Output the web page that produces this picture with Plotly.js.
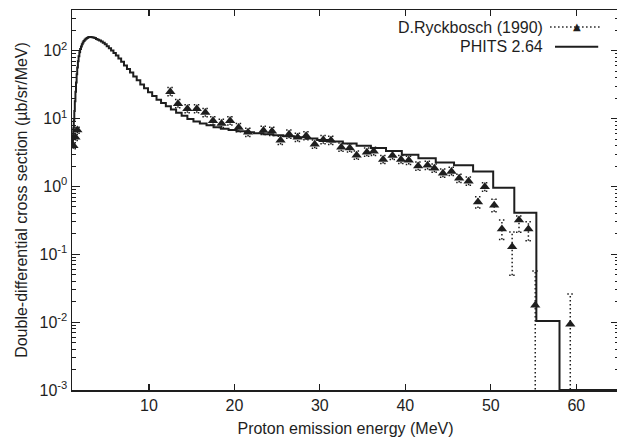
<!DOCTYPE html>
<html><head><meta charset="utf-8">
<script src="https://cdn.plot.ly/plotly-3.0.1.min.js"></script>
<style>html,body{margin:0;padding:0;overflow:hidden;background:#fff}#chart{width:620px;height:440px}</style>
</head><body><div id="chart"></div>
<script>
// PHITS 2.64 histogram: left bin edges (MeV), last right edge, and bin values
const phitsEdges = [1.0,1.05,1.10,1.15,1.21,1.27,1.33,1.40,1.47,1.54,1.61,1.69,1.77,1.86,1.95,2.05,2.15,2.25,2.35,2.47,2.59,2.72,2.85,2.99,3.14,3.29,3.45,3.62,3.80,3.99,4.18,4.39,4.60,4.83,5.06,5.31,5.57,5.85,6.13,6.43,6.75,7.08,7.43,7.79,8.17,8.57,8.99,9.43,9.89,10.38,10.89,11.42,11.98,12.57,13.18,13.83,14.50,15.21,15.96,16.74,17.56,18.42,19.32,20.27,21.26,22.30,23.39,24.54,25.74,27.00,28.32,29.71,31.17,32.69,34.30,35.97,37.74,39.59,41.53,43.56,45.70,47.93,50.28,52.75,55.33,58.04];
const phitsLastEdge = 65;
const phitsValues = [3.8,4.6,5.6,7.2,9.5,13,18,25,34,45,57,70,83,95,106,116,125,133,140,146,151,155,158,160,160,159,157,154,150,146,142,137,132,125,117,109,101,93,85,77,69,61,54,48,42,37,32,28,24.5,21.5,19,17,15.2,13.6,12.2,11,9.9,9.1,8.5,8.0,7.5,7.1,6.8,6.5,6.3,6.1,5.9,5.7,5.5,5.3,5.1,4.85,4.6,4.3,4.0,3.7,3.35,2.95,2.6,2.25,2.05,1.66,0.96,0.41,0.0104,0.001];

// D.Ryckbosch (1990) experimental data
const expEnergy = [1.17,1.4,1.62,12.5,13.4,14.5,15.6,16.6,17.5,18.5,19.5,20.5,21.6,23.4,24.4,25.4,26.4,27.4,28.4,29.4,30.4,31.3,32.5,33.5,34.3,35.5,36.3,37.4,38.5,39.5,40.4,41.5,42.6,43.4,44.4,45.4,46.3,47.4,48.5,49.3,50.4,51.3,52.5,53.3,54.4,55.2,59.3];
const expValue = [4.0,5.3,6.8,25,16.6,14,14,12.3,9.3,8.5,9.3,7.4,6.3,6.7,6.5,4.8,5.9,5.3,5.6,4.2,4.9,4.8,3.8,3.7,2.9,3.2,3.3,2.5,2.87,2.5,2.43,2.0,2.05,1.86,1.57,1.67,1.32,1.2,0.59,0.99,0.53,0.237,0.129,0.32,0.237,0.0177,0.0093];
// relative error (fraction of value), upper and lower
const expErrUp = [0.1,0.1,0.1,0.15,0.15,0.15,0.15,0.15,0.15,0.15,0.15,0.15,0.15,0.15,0.15,0.15,0.15,0.15,0.15,0.15,0.15,0.15,0.15,0.15,0.15,0.15,0.15,0.15,0.15,0.15,0.15,0.15,0.15,0.15,0.15,0.15,0.15,0.15,0.2,0.15,0.22,0.35,0.65,0.15,0.27,2.2,1.8];
const expErrDown = [0.1,0.1,0.1,0.13,0.13,0.13,0.13,0.13,0.13,0.13,0.13,0.13,0.13,0.13,0.13,0.13,0.13,0.13,0.13,0.13,0.13,0.13,0.13,0.13,0.13,0.13,0.13,0.13,0.13,0.13,0.13,0.13,0.13,0.13,0.13,0.13,0.13,0.13,0.18,0.14,0.2,0.3,0.62,0.34,0.33,1.0,1.0];

const xTickVals = [10,20,30,40,50,60];
const yTickVals = [0.001,0.01,0.1,1,10,100];
const yTickText = ['10<sup>-3</sup>','10<sup>-2</sup>','10<sup>-1</sup>','10<sup>0</sup>','10<sup>1</sup>','10<sup>2</sup>'];
const legendNames = ["D.Ryckbosch (1990)", "PHITS 2.64"];

const ink = '#1e1e1e';
const fontFam = 'Liberation Sans, Arial, Helvetica, sans-serif';
const fs = 16;

// histogram trace
const hx = phitsEdges.concat([phitsLastEdge]);
const hy = phitsValues.concat([phitsValues[phitsValues.length-1]]);

// dotted error bars with caps
const ex = [], ey = [];
const capHalf = 0.35;
expEnergy.forEach((e, i) => {
  const v = expValue[i];
  const hi = v * (1 + expErrUp[i]);
  let lo = v * (1 - expErrDown[i]);
  const loCap = lo > 0;
  if (!loCap) lo = 1e-6;
  ex.push(e, e, null); ey.push(lo, hi, null);
  ex.push(e - capHalf, e + capHalf, null); ey.push(hi, hi, null);
  if (loCap) { ex.push(e - capHalf, e + capHalf, null); ey.push(lo, lo, null); }
});

const traces = [
  {x: hx, y: hy, type: 'scatter', mode: 'lines', line: {shape: 'hv', color: ink, width: 2}, hoverinfo: 'skip', showlegend: false, name: legendNames[1]},
  {x: ex, y: ey, type: 'scatter', mode: 'lines', line: {color: ink, width: 1.5, dash: '1.5px,2.5px'}, connectgaps: false, showlegend: false, hoverinfo: 'skip'},
  {x: expEnergy, y: expValue, type: 'scatter', mode: 'markers', marker: {symbol: 'triangle-up', size: 9, color: ink}, showlegend: false, name: legendNames[0]}
];

const layout = {
  width: 620, height: 440,
  margin: {l: 72, r: 1, t: 10, b: 50},
  paper_bgcolor: '#fff', plot_bgcolor: '#fff',
  font: {family: fontFam, size: fs, color: ink},
  showlegend: false,
  xaxis: {
    range: [1, 65], tickvals: xTickVals, ticks: 'inside', ticklen: 6, tickwidth: 1.2, tickcolor: ink,
    showline: true, linecolor: ink, linewidth: 1.5, mirror: 'ticks', showgrid: false, zeroline: false,
    tickfont: {size: fs, family: fontFam, color: ink},
    title: {text: 'Proton emission energy (MeV)', font: {size: fs, family: fontFam, color: ink}, standoff: 10}
  },
  yaxis: {
    type: 'log', range: [-3, 2.602], tickvals: yTickVals, ticktext: yTickText,
    ticks: 'inside', ticklen: 8, tickwidth: 1.2, tickcolor: ink,
    minor: {ticks: 'inside', ticklen: 4, tickwidth: 1, tickcolor: ink, dtick: 'D1', showgrid: false},
    showline: true, linecolor: ink, linewidth: 1.5, mirror: 'ticks', showgrid: false, zeroline: false,
    tickfont: {size: fs, family: fontFam, color: ink},
    title: {text: 'Double-differential cross section (µb/sr/MeV)', font: {size: fs, family: fontFam, color: ink}, standoff: 8}
  },
  annotations: [
    {xref: 'paper', yref: 'paper', x: 0.865, y: 0.955, xanchor: 'right', yanchor: 'middle', text: legendNames[0], showarrow: false, font: {size: fs, family: fontFam, color: ink}},
    {xref: 'paper', yref: 'paper', x: 0.865, y: 0.903, xanchor: 'right', yanchor: 'middle', text: legendNames[1], showarrow: false, font: {size: fs, family: fontFam, color: ink}},
    {xref: 'paper', yref: 'paper', x: 0.923, y: 0.957, xanchor: 'center', yanchor: 'middle', text: '▲', showarrow: false, font: {size: 10, family: 'DejaVu Sans', color: ink}}
  ],
  shapes: [
    {type: 'line', xref: 'paper', yref: 'paper', x0: 0.874, x1: 0.965, y0: 0.955, y1: 0.955, line: {color: ink, width: 1.5, dash: '1.5px,2.5px'}},
    {type: 'line', xref: 'paper', yref: 'paper', x0: 0.883, x1: 0.962, y0: 0.903, y1: 0.903, line: {color: ink, width: 2}}
  ]
};

Plotly.newPlot('chart', traces, layout, {staticPlot: true, displayModeBar: false});
</script></body></html>
